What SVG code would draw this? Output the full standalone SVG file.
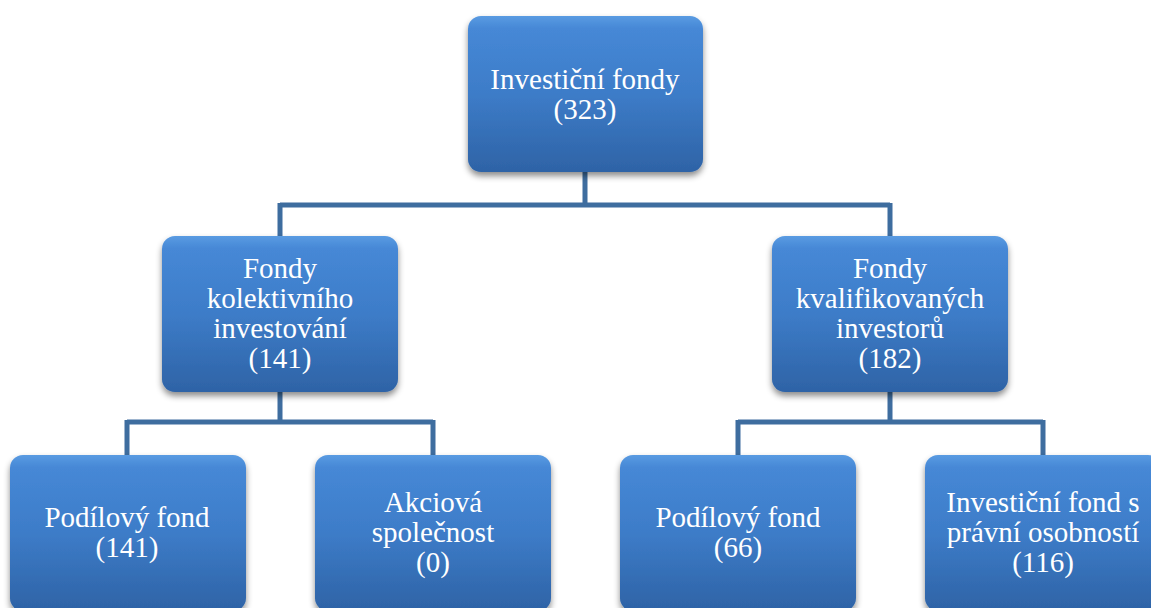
<svg xmlns="http://www.w3.org/2000/svg" width="1151" height="608" viewBox="0 0 1151 608">
<style>
.box{fill:url(#g);filter:url(#sh);}
.t{font-family:'Liberation Serif','Times New Roman',Times,serif;font-size:29px;fill:#fff;text-anchor:middle;}
.c{fill:none;stroke:#3e6d9f;stroke-width:5;}
</style>
<defs>
<linearGradient id="g" x1="0" y1="0" x2="0" y2="1">
<stop offset="0" stop-color="#5a9be2"/>
<stop offset="0.08" stop-color="#4688d6"/>
<stop offset="0.5" stop-color="#3d7cc8"/>
<stop offset="1" stop-color="#2e63a6"/>
</linearGradient>
<filter id="sh" x="-10%" y="-10%" width="120%" height="130%">
<feDropShadow dx="0" dy="4" stdDeviation="3" flood-color="#000" flood-opacity="0.45"/>
</filter>
</defs>
<g id="connectors">
<path class="c" d="M585 172 V205 M280 205 H890 M280 203 V236 M890 203 V236"/>
<path class="c" d="M280 392 V422 M127 422 H433 M127 420 V455 M433 420 V455"/>
<path class="c" d="M890 392 V422 M738 422 H1043 M738 420 V455 M1043 420 V455"/>
</g>
<g id="n-root">
<rect class="box" x="468" y="16" width="235" height="156" rx="13"/>
<text class="t" x="585" y="89" font-family="Liberation Serif, serif">Investiční fondy</text>
<text class="t" x="585" y="119" font-family="Liberation Serif, serif">(323)</text>
</g>
<g id="n-fki">
<rect class="box" x="162" y="236" width="236" height="156" rx="13"/>
<text class="t" x="280" y="278">Fondy</text>
<text class="t" x="280" y="308">kolektivního</text>
<text class="t" x="280" y="338">investování</text>
<text class="t" x="280" y="368">(141)</text>
</g>
<g id="n-fkv">
<rect class="box" x="772" y="236" width="236" height="156" rx="13"/>
<text class="t" x="890" y="278">Fondy</text>
<text class="t" x="890" y="308">kvalifikovaných</text>
<text class="t" x="890" y="338">investorů</text>
<text class="t" x="890" y="368">(182)</text>
</g>
<g id="n-pf1">
<rect class="box" x="10" y="455" width="236" height="156" rx="13"/>
<text class="t" x="127" y="527">Podílový fond</text>
<text class="t" x="127" y="557">(141)</text>
</g>
<g id="n-as">
<rect class="box" x="315" y="455" width="236" height="156" rx="13"/>
<text class="t" x="433" y="512">Akciová</text>
<text class="t" x="433" y="542">společnost</text>
<text class="t" x="433" y="572">(0)</text>
</g>
<g id="n-pf2">
<rect class="box" x="620" y="455" width="236" height="156" rx="13"/>
<text class="t" x="738" y="527">Podílový fond</text>
<text class="t" x="738" y="557">(66)</text>
</g>
<g id="n-ifpo">
<rect class="box" x="925" y="455" width="236" height="156" rx="13"/>
<text class="t" x="1043" y="512">Investiční fond s</text>
<text class="t" x="1043" y="542">právní osobností</text>
<text class="t" x="1043" y="572">(116)</text>
</g>
</svg>
